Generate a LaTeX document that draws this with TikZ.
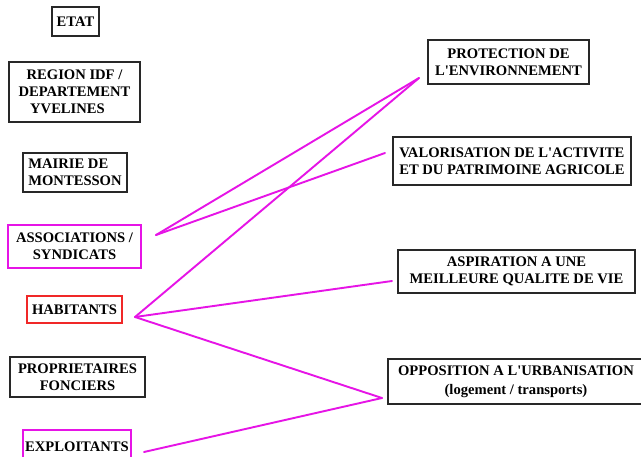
\documentclass[tikz,border=0pt]{standalone}
\usepackage{fontspec}
\setmainfont{Liberation Serif}
\definecolor{mag}{RGB}{230,20,230}
\definecolor{redb}{RGB}{240,40,40}
\definecolor{boxk}{RGB}{40,40,40}
\newcommand{\apos}{\textquotesingle}
\begin{document}
\begin{tikzpicture}[x=1pt,y=-1pt,
  box/.style={draw=boxk, line width=1.7pt, inner sep=0pt, align=center,
    font=\fontsize{14.6}{17}\selectfont\bfseries, text=black},
  magbox/.style={box, draw=mag, line width=1.1pt},
  redbox/.style={box, draw=redb, line width=1.3pt},
  link/.style={draw=mag, line width=1.9pt, line cap=round}]
\clip (0,0) rectangle (641,456);
\fill[white] (0,0) rectangle (641,456);
% left column
\node[box, minimum width=47, minimum height=29] (etat) at (75.5,21.5) {ETAT};
\node[box, minimum width=131, minimum height=60] (region) at (74.5,92)
  {REGION IDF /\\DEPARTEMENT\\YVELINES\hspace*{14pt}};
\node[box, align=left, minimum width=104, minimum height=39] (mairie) at (75,172.5)
  {MAIRIE DE\\MONTESSON};
\node[magbox, minimum width=133, minimum height=43] (assoc) at (74.5,246.5)
  {ASSOCIATIONS /\\SYNDICATS};
\node[redbox, minimum width=95, minimum height=27] (hab) at (74.5,309.5) {HABITANTS};
\node[box, minimum width=135, minimum height=40] (proprio) at (77.5,377)
  {PROPRIETAIRES\\FONCIERS};
\node[magbox, minimum width=108, minimum height=33] (exploit) at (77,446.5)
  {EXPLOITANTS};
% right column
\node[box, minimum width=161, minimum height=44] (prot) at (508.5,62)
  {PROTECTION DE\\L\apos ENVIRONNEMENT};
\node[box, align=left, minimum width=238, minimum height=48] (valo) at (512,161)
  {VALORISATION DE L\apos ACTIVITE\\ET DU PATRIMOINE AGRICOLE};
\node[box, minimum width=237, minimum height=43] (aspi) at (516.5,271.5)
  {ASPIRATION A UNE\\MEILLEURE QUALITE DE VIE};
\node[box, minimum width=256, minimum height=45,
  font=\fontsize{14.6}{19}\selectfont\bfseries] (oppo) at (516,381.5)
  {OPPOSITION A L\apos URBANISATION\\(logement / transports)};
% connector ends
\coordinate (assocP) at (156,235);
\coordinate (habP) at (135,317);
\coordinate (expP) at (144,452);
\coordinate (protP) at (419,78);
\coordinate (valoP) at (385,153);
\coordinate (aspiP) at (392,281);
\coordinate (oppoP) at (382,398);
% connectors
\draw[link] (assocP) -- (protP);
\draw[link] (assocP) -- (valoP);
\draw[link] (habP) -- (protP);
\draw[link] (habP) -- (aspiP);
\draw[link] (habP) -- (oppoP);
\draw[link] (expP) -- (oppoP);
\end{tikzpicture}
\end{document}
